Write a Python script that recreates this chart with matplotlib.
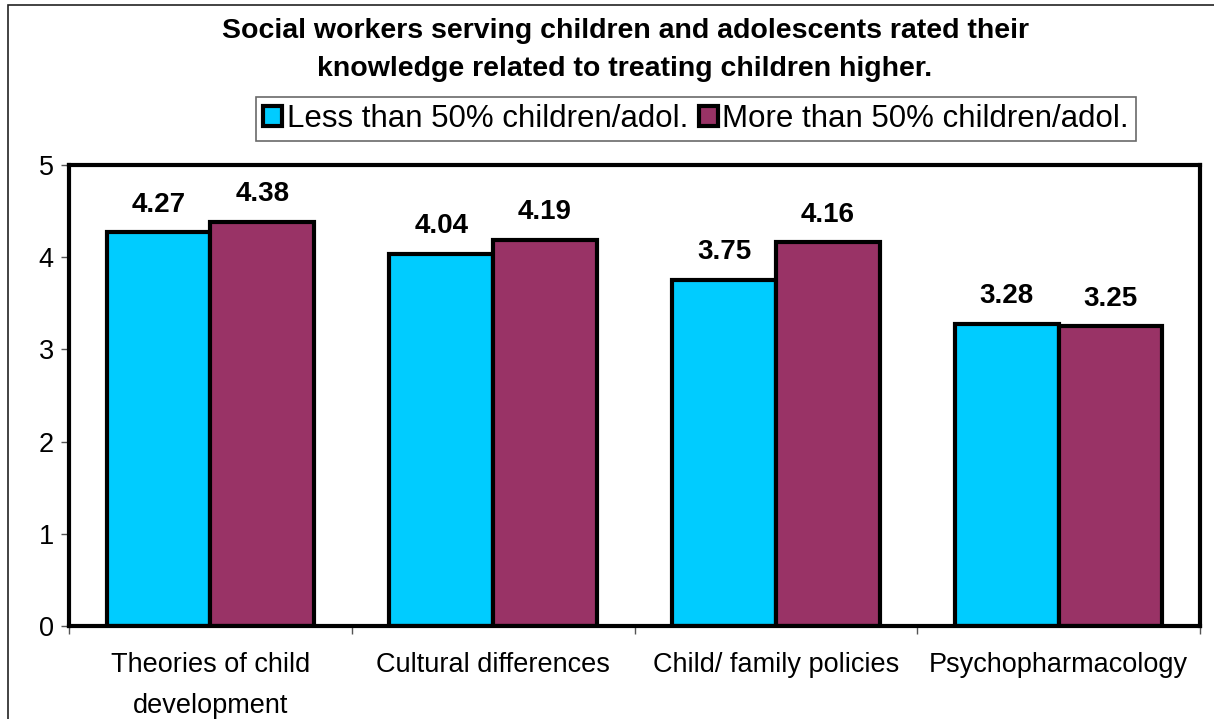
import numpy as np
import matplotlib.pyplot as plt
from matplotlib.patches import Rectangle, Patch

plt.rcParams['font.family'] = ['Liberation Sans', 'DejaVu Sans']

categories = ['Theories of child\ndevelopment', 'Cultural differences',
              'Child/ family policies', 'Psychopharmacology']
less_50 = [4.27, 4.04, 3.75, 3.28]
more_50 = [4.38, 4.19, 4.16, 3.25]
series_names = ['Less than 50% children/adol.', 'More than 50% children/adol.']

cyan = '#00CCFF'
plum = '#993366'

fig = plt.figure(figsize=(12.14, 7.19), dpi=100)
ax = fig.add_axes([69 / 1214, 1 - 626 / 719, (1200 - 69) / 1214, (626 - 165) / 719])

# outer frame around the whole chart
fig.patches.append(Rectangle((8 / 1214, -0.1), 1.2, 1.1 - 5 / 719, transform=fig.transFigure,
                             fill=False, edgecolor='#222222', linewidth=1.2))

x = np.arange(len(categories))
w = 0.367
b1 = ax.bar(x - w / 2, less_50, w, color=cyan, edgecolor='black', linewidth=3)
b2 = ax.bar(x + w / 2, more_50, w, color=plum, edgecolor='black', linewidth=3)

for bars, vals in ((b1, less_50), (b2, more_50)):
    for r, v in zip(bars, vals):
        ax.text(r.get_x() + r.get_width() / 2, v + 0.16, f'{v:.2f}',
                ha='center', va='bottom', fontsize=20, fontweight='bold')

ax.set_xlim(-0.5, len(categories) - 0.5)
ax.set_ylim(0, 5)
ax.set_yticks(range(6))
ax.set_xticks(np.arange(len(categories) + 1) - 0.5)
ax.set_xticklabels([])
ax.set_xticks(x, minor=True)
ax.set_xticklabels(categories, minor=True, fontsize=19.5, linespacing=1.75)
ax.tick_params(axis='x', which='minor', length=0, pad=19)
ax.tick_params(axis='x', which='major', length=6, width=1, color='#555555', direction='out')
ax.tick_params(axis='y', length=6, width=1, color='#555555', labelsize=19.5, pad=5)
for s in ax.spines.values():
    s.set_linewidth(3)

fig.text(625 / 1214, 1 - 50 / 719,
         'Social workers serving children and adolescents rated their\n'
         'knowledge related to treating children higher.',
         ha='center', va='center', fontsize=20.5, fontweight='bold', linespacing=1.55)

handles = [Patch(facecolor=cyan, edgecolor='black', linewidth=3),
           Patch(facecolor=plum, edgecolor='black', linewidth=3)]
leg = fig.legend(handles, series_names, loc='center', ncol=2,
                 bbox_to_anchor=(696 / 1214, 1 - 119 / 719), fontsize=22.5,
                 frameon=True, fancybox=False, edgecolor='#444444',
                 handlelength=0.6, handleheight=0.6, handletextpad=0.15,
                 columnspacing=0.35, borderpad=0.22, borderaxespad=0)
leg.get_frame().set_linewidth(1.2)

fig.savefig('out.png', dpi=100)
